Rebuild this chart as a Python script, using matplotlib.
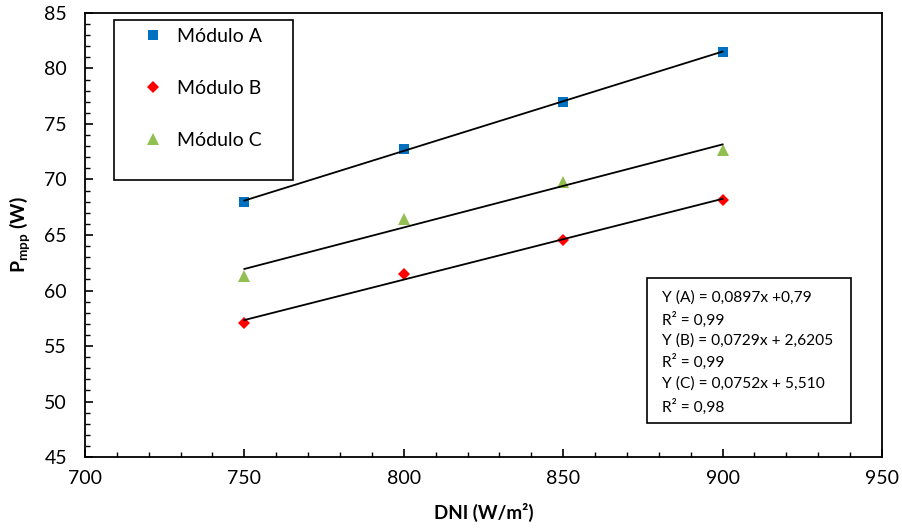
import numpy as np
import matplotlib
matplotlib.use("Agg")
import matplotlib.pyplot as plt
from matplotlib.patches import Rectangle
from matplotlib.ticker import MultipleLocator

plt.rcParams['font.family'] = ['Lato', 'DejaVu Sans']
plt.rcParams['mathtext.fontset'] = 'custom'
plt.rcParams['mathtext.rm'] = 'Lato'
plt.rcParams['mathtext.bf'] = 'Lato:bold'

dni = [750, 800, 850, 900]
mod_a = [68.0, 72.75, 77.0, 81.5]
mod_b = [57.05, 61.45, 64.55, 68.15]
mod_c = [61.3, 66.45, 69.8, 72.65]
labels = ["Módulo A", "Módulo B", "Módulo C"]
colors = ["#0070C0", "#FF0000", "#92C050"]
markers = ["s", "D", "^"]
msizes = [7, 6, 8.5]
eq_lines = ["Y (A) = 0,0897x +0,79", "R² = 0,99", "Y (B) = 0,0729x + 2,6205",
            "R² = 0,99", "Y (C) = 0,0752x + 5,510", "R² = 0,98"]

fig = plt.figure(figsize=(9.03, 5.30), dpi=100)
ax = fig.add_axes([0.0941, 0.1377, 0.8826, 0.8378])

x = np.array(dni, dtype=float)
for ys, lab, c, m, ms in zip([mod_a, mod_b, mod_c], labels, colors, markers, msizes):
    ax.plot(x, ys, linestyle='none', marker=m, color=c, markersize=ms,
            markeredgewidth=0, label=lab, zorder=3)
    k, b = np.polyfit(x, ys, 1)
    ax.plot(x[[0, -1]], k * x[[0, -1]] + b, color='black', lw=1.3, zorder=4)

ax.set_xlim(700, 950)
ax.set_ylim(45, 85)
ax.xaxis.set_major_locator(MultipleLocator(50))
ax.xaxis.set_minor_locator(MultipleLocator(10))
ax.yaxis.set_major_locator(MultipleLocator(5))
ax.yaxis.set_minor_locator(MultipleLocator(1))
ax.tick_params(axis='both', which='major', direction='in', length=6, width=1.2,
               labelsize=14, colors='black')
ax.tick_params(axis='both', which='minor', direction='in', length=3.5, width=1.0)
ax.tick_params(axis='x', which='major', pad=9)
ax.tick_params(axis='y', which='major', pad=13)
for s in ax.spines.values():
    s.set_linewidth(1.3)
    s.set_color('black')

ax.set_xlabel("DNI (W/m²)", fontsize=13.5, fontweight='bold', labelpad=12)
ax.set_ylabel(r"$\mathbf{P}_{\mathbf{mpp}}$ (W)", fontsize=14, fontweight='bold', labelpad=8)

leg = ax.legend(loc='upper left', bbox_to_anchor=(0.064, 0.984), frameon=False,
                fontsize=14, labelspacing=1.8, handletextpad=0.7, handlelength=1.0,
                borderaxespad=0)
ax.add_patch(Rectangle((0.0364, 0.624), 0.2245, 0.36, transform=ax.transAxes,
                       fill=False, edgecolor='black', lw=1.2, zorder=5))

ax.add_patch(Rectangle(((647 - 85) / 797, (457 - 423) / 444), 204 / 797, 145 / 444,
                       transform=ax.transAxes, facecolor='white', edgecolor='black',
                       lw=1.2, zorder=5))
line_px = [298, 320, 341, 362, 384, 407]
for txt, py in zip(eq_lines, line_px):
    ax.text((662 - 85) / 797, (457 - py) / 444, txt, transform=ax.transAxes,
            fontsize=11.2, va='center', ha='left', zorder=6)

fig.savefig("out.png", dpi=100)
